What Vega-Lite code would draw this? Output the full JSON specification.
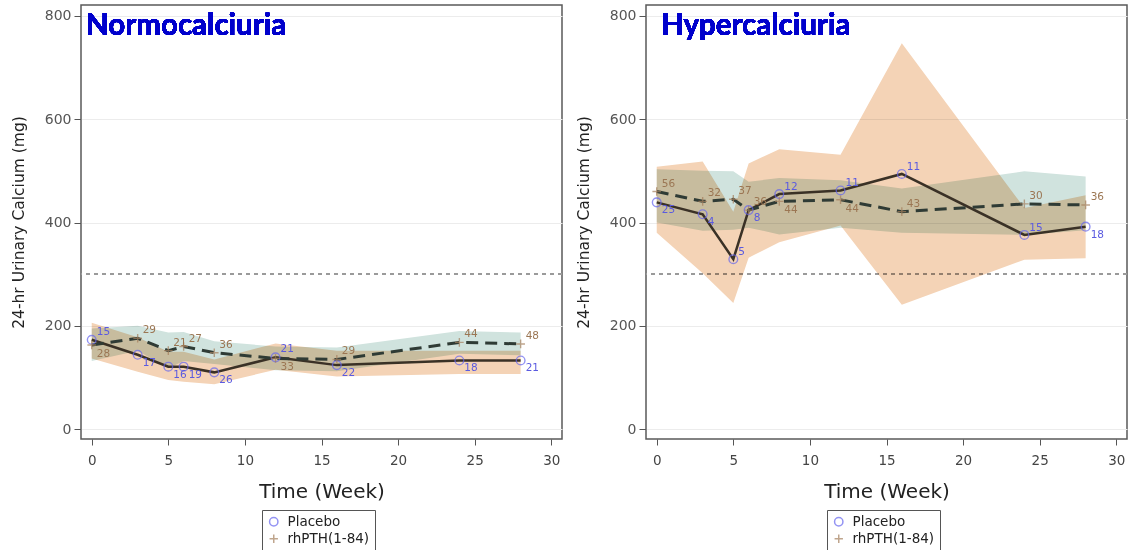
{
  "$schema": "https://vega.github.io/schema/vega-lite/v6.json",
  "background": "white",
  "padding": {"left": 10, "top": 4, "right": 0, "bottom": 0},
  "config": {
    "view": {"stroke": "#5a5a5a", "strokeWidth": 1.5},
    "font": "DejaVu Sans"
  },
  "datasets": {
    "calc": [
      {"panel": "Normocalciuria", "group": "Placebo", "week": 0, "mean": 173, "lower": 137, "upper": 206, "n": "15"},
      {"panel": "Normocalciuria", "group": "Placebo", "week": 3, "mean": 144, "lower": 111, "upper": 178, "n": "17"},
      {"panel": "Normocalciuria", "group": "Placebo", "week": 5, "mean": 121, "lower": 95, "upper": 150, "n": "16"},
      {"panel": "Normocalciuria", "group": "Placebo", "week": 6, "mean": 121, "lower": 92, "upper": 150, "n": "19"},
      {"panel": "Normocalciuria", "group": "Placebo", "week": 8, "mean": 110, "lower": 87, "upper": 135, "n": "26"},
      {"panel": "Normocalciuria", "group": "Placebo", "week": 12, "mean": 139, "lower": 115, "upper": 166, "n": "21"},
      {"panel": "Normocalciuria", "group": "Placebo", "week": 16, "mean": 124, "lower": 102, "upper": 152, "n": "22"},
      {"panel": "Normocalciuria", "group": "Placebo", "week": 24, "mean": 133, "lower": 107, "upper": 152, "n": "18"},
      {"panel": "Normocalciuria", "group": "Placebo", "week": 28, "mean": 133, "lower": 107, "upper": 152, "n": "21"},
      {"panel": "Normocalciuria", "group": "rhPTH(1-84)", "week": 0, "mean": 163, "lower": 132, "upper": 195, "n": "28"},
      {"panel": "Normocalciuria", "group": "rhPTH(1-84)", "week": 3, "mean": 176, "lower": 152, "upper": 200, "n": "29"},
      {"panel": "Normocalciuria", "group": "rhPTH(1-84)", "week": 5, "mean": 152, "lower": 118, "upper": 187, "n": "21"},
      {"panel": "Normocalciuria", "group": "rhPTH(1-84)", "week": 6, "mean": 160, "lower": 132, "upper": 188, "n": "27"},
      {"panel": "Normocalciuria", "group": "rhPTH(1-84)", "week": 8, "mean": 148, "lower": 126, "upper": 170, "n": "36"},
      {"panel": "Normocalciuria", "group": "rhPTH(1-84)", "week": 12, "mean": 137, "lower": 114, "upper": 160, "n": "33"},
      {"panel": "Normocalciuria", "group": "rhPTH(1-84)", "week": 16, "mean": 135, "lower": 112, "upper": 158, "n": "29"},
      {"panel": "Normocalciuria", "group": "rhPTH(1-84)", "week": 24, "mean": 168, "lower": 146, "upper": 190, "n": "44"},
      {"panel": "Normocalciuria", "group": "rhPTH(1-84)", "week": 28, "mean": 165, "lower": 143, "upper": 187, "n": "48"},
      {"panel": "Hypercalciuria", "group": "Placebo", "week": 0, "mean": 439, "lower": 380, "upper": 508, "n": "25"},
      {"panel": "Hypercalciuria", "group": "Placebo", "week": 3, "mean": 416, "lower": 302, "upper": 518, "n": "4"},
      {"panel": "Hypercalciuria", "group": "Placebo", "week": 5, "mean": 329, "lower": 244, "upper": 421, "n": "5"},
      {"panel": "Hypercalciuria", "group": "Placebo", "week": 6, "mean": 424, "lower": 332, "upper": 514, "n": "8"},
      {"panel": "Hypercalciuria", "group": "Placebo", "week": 8, "mean": 455, "lower": 362, "upper": 542, "n": "12"},
      {"panel": "Hypercalciuria", "group": "Placebo", "week": 12, "mean": 462, "lower": 394, "upper": 531, "n": "11"},
      {"panel": "Hypercalciuria", "group": "Placebo", "week": 16, "mean": 494, "lower": 241, "upper": 747, "n": "11"},
      {"panel": "Hypercalciuria", "group": "Placebo", "week": 24, "mean": 376, "lower": 328, "upper": 428, "n": "15"},
      {"panel": "Hypercalciuria", "group": "Placebo", "week": 28, "mean": 392, "lower": 331, "upper": 453, "n": "18"},
      {"panel": "Hypercalciuria", "group": "rhPTH(1-84)", "week": 0, "mean": 460, "lower": 400, "upper": 503, "n": "56"},
      {"panel": "Hypercalciuria", "group": "rhPTH(1-84)", "week": 3, "mean": 441, "lower": 384, "upper": 500, "n": "32"},
      {"panel": "Hypercalciuria", "group": "rhPTH(1-84)", "week": 5, "mean": 445, "lower": 386, "upper": 499, "n": "37"},
      {"panel": "Hypercalciuria", "group": "rhPTH(1-84)", "week": 6, "mean": 424, "lower": 390, "upper": 479, "n": "36"},
      {"panel": "Hypercalciuria", "group": "rhPTH(1-84)", "week": 8, "mean": 441, "lower": 377, "upper": 486, "n": "44"},
      {"panel": "Hypercalciuria", "group": "rhPTH(1-84)", "week": 12, "mean": 444, "lower": 390, "upper": 482, "n": "44"},
      {"panel": "Hypercalciuria", "group": "rhPTH(1-84)", "week": 16, "mean": 421, "lower": 380, "upper": 466, "n": "43"},
      {"panel": "Hypercalciuria", "group": "rhPTH(1-84)", "week": 24, "mean": 436, "lower": 376, "upper": 499, "n": "30"},
      {"panel": "Hypercalciuria", "group": "rhPTH(1-84)", "week": 28, "mean": 434, "lower": 385, "upper": 489, "n": "36"}
    ]
  },
  "spacing": 11,
  "resolve": {"legend": {"color": "independent", "shape": "independent"}},
  "hconcat": [
    {
      "width": 481,
      "height": 434,
      "data": {"name": "calc"},
      "transform": [{"filter": "datum.panel === 'Normocalciuria'"}],
      "layer": [
        {
          "mark": {"type": "rule", "color": "#9a9a9a", "strokeDash": [4, 4], "strokeWidth": 1.5},
          "encoding": {
            "y": {"datum": 300, "type": "quantitative", "scale": {"domain": [-19, 821], "nice": false, "zero": false}, "title": "24-hr Urinary Calcium (mg)",
              "axis": {"values": [0, 200, 400, 600, 800], "grid": true, "gridColor": "#ececec", "domain": false, "tickSize": 7, "tickColor": "#555", "labelFontSize": 14, "labelColor": "#555", "labelPadding": 3, "titleFontSize": 15.5, "titleFontWeight": "normal", "titleColor": "#222", "titlePadding": 18}}
          }
        },
        {
          "transform": [{"filter": "datum.group === 'Placebo'"}],
          "mark": {"type": "area", "color": "#F4D3B6", "blend": "multiply", "opacity": 1},
          "encoding": {
            "x": {"field": "week", "type": "quantitative", "scale": {"domain": [-0.7, 30.7], "nice": false, "zero": false}, "title": "Time (Week)",
              "axis": {"values": [0, 5, 10, 15, 20, 25, 30], "grid": false, "domain": false, "tickSize": 6, "tickColor": "#555", "labelFontSize": 13.5, "labelColor": "#444", "labelPadding": 8, "titleFontSize": 20, "titleFontWeight": "normal", "titleColor": "#222", "titlePadding": 15}},
            "y": {"field": "lower", "type": "quantitative", "title": "24-hr Urinary Calcium (mg)"},
            "y2": {"field": "upper"}
          }
        },
        {
          "transform": [{"filter": "datum.group === 'rhPTH(1-84)'"}],
          "mark": {"type": "area", "color": "#D0E3DE", "blend": "multiply", "opacity": 1},
          "encoding": {
            "x": {"field": "week", "type": "quantitative", "title": "Time (Week)"},
            "y": {"field": "lower", "type": "quantitative", "title": "24-hr Urinary Calcium (mg)"},
            "y2": {"field": "upper"}
          }
        },
        {
          "transform": [{"filter": "datum.group === 'Placebo'"}],
          "mark": {"type": "line", "color": "#3A3126", "strokeWidth": 2.5},
          "encoding": {
            "x": {"field": "week", "type": "quantitative", "title": "Time (Week)"},
            "y": {"field": "mean", "type": "quantitative", "title": "24-hr Urinary Calcium (mg)"}
          }
        },
        {
          "transform": [{"filter": "datum.group === 'rhPTH(1-84)'"}],
          "mark": {"type": "line", "color": "#2F3B35", "strokeWidth": 3, "strokeDash": [12, 7]},
          "encoding": {
            "x": {"field": "week", "type": "quantitative", "title": "Time (Week)"},
            "y": {"field": "mean", "type": "quantitative", "title": "24-hr Urinary Calcium (mg)"}
          }
        },
        {
          "mark": {"type": "point", "filled": false, "strokeWidth": 1.4, "size": 75},
          "encoding": {
            "x": {"field": "week", "type": "quantitative", "title": "Time (Week)"},
            "y": {"field": "mean", "type": "quantitative", "title": "24-hr Urinary Calcium (mg)"},
            "color": {"field": "group", "type": "nominal", "scale": {"domain": ["Placebo", "rhPTH(1-84)"], "range": ["#6666EE", "#A5805E"]},
              "legend": {"title": null, "orient": "none", "legendX": 181, "legendY": 505, "strokeColor": "#555", "padding": 5, "labelFontSize": 13.5, "labelColor": "#222", "symbolSize": 70, "symbolStrokeWidth": 1.5, "rowPadding": 2, "labelOffset": 7}},
            "shape": {"field": "group", "type": "nominal", "scale": {"domain": ["Placebo", "rhPTH(1-84)"], "range": ["circle", "M-1,0H1M0,-1V1"]},
              "legend": {"title": null, "orient": "none", "legendX": 181, "legendY": 505, "strokeColor": "#555", "padding": 5, "labelFontSize": 13.5, "labelColor": "#222", "symbolSize": 70, "symbolStrokeWidth": 1.5, "rowPadding": 2, "labelOffset": 7}}
          }
        },
        {
          "transform": [{"filter": "datum.group === 'Placebo' && !(datum.week === 0 || datum.week === 12)"}],
          "mark": {"type": "text", "align": "left", "dx": 5, "dy": 8, "fontSize": 10.5, "color": "#5a5ae0"},
          "encoding": {
            "x": {"field": "week", "type": "quantitative", "title": "Time (Week)"},
            "y": {"field": "mean", "type": "quantitative", "title": "24-hr Urinary Calcium (mg)"},
            "text": {"field": "n"}
          }
        },
        {
          "transform": [{"filter": "datum.group === 'Placebo' && (datum.week === 0 || datum.week === 12)"}],
          "mark": {"type": "text", "align": "left", "dx": 5, "dy": -8, "fontSize": 10.5, "color": "#5a5ae0"},
          "encoding": {
            "x": {"field": "week", "type": "quantitative", "title": "Time (Week)"},
            "y": {"field": "mean", "type": "quantitative", "title": "24-hr Urinary Calcium (mg)"},
            "text": {"field": "n"}
          }
        },
        {
          "transform": [{"filter": "datum.group === 'rhPTH(1-84)' && !(datum.week === 0 || datum.week === 12)"}],
          "mark": {"type": "text", "align": "left", "dx": 5, "dy": -8, "fontSize": 10.5, "color": "#9b7653"},
          "encoding": {
            "x": {"field": "week", "type": "quantitative", "title": "Time (Week)"},
            "y": {"field": "mean", "type": "quantitative", "title": "24-hr Urinary Calcium (mg)"},
            "text": {"field": "n"}
          }
        },
        {
          "transform": [{"filter": "datum.group === 'rhPTH(1-84)' && (datum.week === 0 || datum.week === 12)"}],
          "mark": {"type": "text", "align": "left", "dx": 5, "dy": 9, "fontSize": 10.5, "color": "#9b7653"},
          "encoding": {
            "x": {"field": "week", "type": "quantitative", "title": "Time (Week)"},
            "y": {"field": "mean", "type": "quantitative", "title": "24-hr Urinary Calcium (mg)"},
            "text": {"field": "n"}
          }
        },
        {
          "mark": {"type": "text", "align": "left", "baseline": "alphabetic", "dx": 5, "dy": 30, "font": "Lato", "fontSize": 29.5, "fontWeight": "bold", "color": "#0000CC"},
          "encoding": {
            "x": {"datum": -0.7, "type": "quantitative"},
            "y": {"datum": 821, "type": "quantitative"},
            "text": {"value": "Normocalciuria"}
          }
        }
      ]
    },
    {
      "width": 481,
      "height": 434,
      "data": {"name": "calc"},
      "transform": [{"filter": "datum.panel === 'Hypercalciuria'"}],
      "layer": [
        {
          "mark": {"type": "rule", "color": "#9a9a9a", "strokeDash": [4, 4], "strokeWidth": 1.5},
          "encoding": {
            "y": {"datum": 300, "type": "quantitative", "scale": {"domain": [-19, 821], "nice": false, "zero": false}, "title": "24-hr Urinary Calcium (mg)",
              "axis": {"values": [0, 200, 400, 600, 800], "grid": true, "gridColor": "#ececec", "domain": false, "tickSize": 7, "tickColor": "#555", "labelFontSize": 14, "labelColor": "#555", "labelPadding": 3, "titleFontSize": 15.5, "titleFontWeight": "normal", "titleColor": "#222", "titlePadding": 18}}
          }
        },
        {
          "transform": [{"filter": "datum.group === 'Placebo'"}],
          "mark": {"type": "area", "color": "#F4D3B6", "blend": "multiply", "opacity": 1},
          "encoding": {
            "x": {"field": "week", "type": "quantitative", "scale": {"domain": [-0.7, 30.7], "nice": false, "zero": false}, "title": "Time (Week)",
              "axis": {"values": [0, 5, 10, 15, 20, 25, 30], "grid": false, "domain": false, "tickSize": 6, "tickColor": "#555", "labelFontSize": 13.5, "labelColor": "#444", "labelPadding": 8, "titleFontSize": 20, "titleFontWeight": "normal", "titleColor": "#222", "titlePadding": 15}},
            "y": {"field": "lower", "type": "quantitative", "title": "24-hr Urinary Calcium (mg)"},
            "y2": {"field": "upper"}
          }
        },
        {
          "transform": [{"filter": "datum.group === 'rhPTH(1-84)'"}],
          "mark": {"type": "area", "color": "#D0E3DE", "blend": "multiply", "opacity": 1},
          "encoding": {
            "x": {"field": "week", "type": "quantitative", "title": "Time (Week)"},
            "y": {"field": "lower", "type": "quantitative", "title": "24-hr Urinary Calcium (mg)"},
            "y2": {"field": "upper"}
          }
        },
        {
          "transform": [{"filter": "datum.group === 'Placebo'"}],
          "mark": {"type": "line", "color": "#3A3126", "strokeWidth": 2.5},
          "encoding": {
            "x": {"field": "week", "type": "quantitative", "title": "Time (Week)"},
            "y": {"field": "mean", "type": "quantitative", "title": "24-hr Urinary Calcium (mg)"}
          }
        },
        {
          "transform": [{"filter": "datum.group === 'rhPTH(1-84)'"}],
          "mark": {"type": "line", "color": "#2F3B35", "strokeWidth": 3, "strokeDash": [12, 7]},
          "encoding": {
            "x": {"field": "week", "type": "quantitative", "title": "Time (Week)"},
            "y": {"field": "mean", "type": "quantitative", "title": "24-hr Urinary Calcium (mg)"}
          }
        },
        {
          "mark": {"type": "point", "filled": false, "strokeWidth": 1.4, "size": 75},
          "encoding": {
            "x": {"field": "week", "type": "quantitative", "title": "Time (Week)"},
            "y": {"field": "mean", "type": "quantitative", "title": "24-hr Urinary Calcium (mg)"},
            "color": {"field": "group", "type": "nominal", "scale": {"domain": ["Placebo", "rhPTH(1-84)"], "range": ["#6666EE", "#A5805E"]},
              "legend": {"title": null, "orient": "none", "legendX": 181, "legendY": 505, "strokeColor": "#555", "padding": 5, "labelFontSize": 13.5, "labelColor": "#222", "symbolSize": 70, "symbolStrokeWidth": 1.5, "rowPadding": 2, "labelOffset": 7}},
            "shape": {"field": "group", "type": "nominal", "scale": {"domain": ["Placebo", "rhPTH(1-84)"], "range": ["circle", "M-1,0H1M0,-1V1"]},
              "legend": {"title": null, "orient": "none", "legendX": 181, "legendY": 505, "strokeColor": "#555", "padding": 5, "labelFontSize": 13.5, "labelColor": "#222", "symbolSize": 70, "symbolStrokeWidth": 1.5, "rowPadding": 2, "labelOffset": 7}}
          }
        },
        {
          "transform": [{"filter": "datum.group === 'Placebo' && !(datum.week === 5 || datum.week === 8 || datum.week === 12 || datum.week === 16 || datum.week === 24)"}],
          "mark": {"type": "text", "align": "left", "dx": 5, "dy": 8, "fontSize": 10.5, "color": "#5a5ae0"},
          "encoding": {
            "x": {"field": "week", "type": "quantitative", "title": "Time (Week)"},
            "y": {"field": "mean", "type": "quantitative", "title": "24-hr Urinary Calcium (mg)"},
            "text": {"field": "n"}
          }
        },
        {
          "transform": [{"filter": "datum.group === 'Placebo' && (datum.week === 5 || datum.week === 8 || datum.week === 12 || datum.week === 16 || datum.week === 24)"}],
          "mark": {"type": "text", "align": "left", "dx": 5, "dy": -7, "fontSize": 10.5, "color": "#5a5ae0"},
          "encoding": {
            "x": {"field": "week", "type": "quantitative", "title": "Time (Week)"},
            "y": {"field": "mean", "type": "quantitative", "title": "24-hr Urinary Calcium (mg)"},
            "text": {"field": "n"}
          }
        },
        {
          "transform": [{"filter": "datum.group === 'rhPTH(1-84)' && !(datum.week === 8 || datum.week === 12)"}],
          "mark": {"type": "text", "align": "left", "dx": 5, "dy": -8, "fontSize": 10.5, "color": "#9b7653"},
          "encoding": {
            "x": {"field": "week", "type": "quantitative", "title": "Time (Week)"},
            "y": {"field": "mean", "type": "quantitative", "title": "24-hr Urinary Calcium (mg)"},
            "text": {"field": "n"}
          }
        },
        {
          "transform": [{"filter": "datum.group === 'rhPTH(1-84)' && (datum.week === 8 || datum.week === 12)"}],
          "mark": {"type": "text", "align": "left", "dx": 5, "dy": 9, "fontSize": 10.5, "color": "#9b7653"},
          "encoding": {
            "x": {"field": "week", "type": "quantitative", "title": "Time (Week)"},
            "y": {"field": "mean", "type": "quantitative", "title": "24-hr Urinary Calcium (mg)"},
            "text": {"field": "n"}
          }
        },
        {
          "mark": {"type": "text", "align": "left", "baseline": "alphabetic", "dx": 15, "dy": 30, "font": "Lato", "fontSize": 29.5, "fontWeight": "bold", "color": "#0000CC"},
          "encoding": {
            "x": {"datum": -0.7, "type": "quantitative"},
            "y": {"datum": 821, "type": "quantitative"},
            "text": {"value": "Hypercalciuria"}
          }
        }
      ]
    }
  ]
}
